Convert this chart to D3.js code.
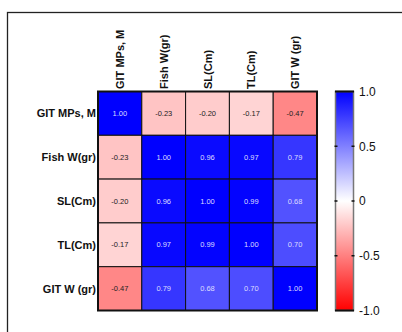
<!DOCTYPE html>
<html><head><meta charset="utf-8">
<script src="https://cdn.jsdelivr.net/npm/d3@7"></script>
<style>
html,body{margin:0;padding:0;background:#fff;}
svg{display:block;font-family:"Liberation Sans",Arial,sans-serif;}
</style></head>
<body>
<svg id="chart" width="402" height="332"></svg>
<script>
const categories = ["GIT MPs, M","Fish W(gr)","SL(Cm)","TL(Cm)","GIT W (gr)"];
const rowGIT   = [1.00,-0.23,-0.20,-0.17,-0.47];
const rowFish  = [-0.23,1.00,0.96,0.97,0.79];
const rowSL    = [-0.20,0.96,1.00,0.99,0.68];
const rowTL    = [-0.17,0.97,0.99,1.00,0.70];
const rowGITW  = [-0.47,0.79,0.68,0.70,1.00];
const matrix = [rowGIT,rowFish,rowSL,rowTL,rowGITW];
const colorTicks = [-1.0,-0.5,0,0.5,1.0];

const svg = d3.select("#chart");
// outer frame
svg.append("rect").attr("x",7.5).attr("y",12.5).attr("width",420).attr("height",340)
  .attr("fill","none").attr("stroke","#222").attr("stroke-width",1.3);

const x = d3.scaleBand().domain(categories).range([98,317]);
const y = d3.scaleBand().domain(categories).range([91.5,310.5]);
const color = d3.scaleLinear().domain([-1,0,1]).range(["#ff0000","#ffffff","#0000ff"]);

const cells = [];
matrix.forEach((row,i)=>row.forEach((v,j)=>cells.push({r:categories[i],c:categories[j],v})));

const g = svg.append("g");
g.selectAll("rect.cell").data(cells).join("rect").attr("class","cell")
  .attr("x",d=>x(d.c)).attr("y",d=>y(d.r))
  .attr("width",x.bandwidth()).attr("height",y.bandwidth())
  .attr("fill",d=>color(d.v)).attr("stroke","#111").attr("stroke-width",1);
g.selectAll("text.val").data(cells).join("text").attr("class","val")
  .attr("x",d=>x(d.c)+x.bandwidth()/2).attr("y",d=>y(d.r)+y.bandwidth()/2)
  .attr("text-anchor","middle").attr("dominant-baseline","central")
  .attr("font-size","7.5px")
  .attr("fill",d=>d.v>0.4?"#dcdcff":"#222")
  .text(d=>d.v.toFixed(2));
// heatmap outer border
g.append("rect").attr("x",98).attr("y",91.5).attr("width",219).attr("height",219)
  .attr("fill","none").attr("stroke","#111").attr("stroke-width",2);

// row labels
svg.selectAll("text.row").data(categories).join("text").attr("class","row")
  .attr("x",96).attr("y",d=>y(d)+y.bandwidth()/2)
  .attr("text-anchor","end").attr("dominant-baseline","central")
  .attr("font-size","11px").attr("font-weight","bold").attr("fill","#111")
  .text(d=>d);
// column labels
svg.selectAll("text.col").data(categories).join("text").attr("class","col")
  .attr("transform",d=>`translate(${x(d)+x.bandwidth()/2+4},89) rotate(-90)`)
  .attr("text-anchor","start")
  .attr("font-size","11px").attr("font-weight","bold").attr("fill","#111")
  .text(d=>d);

// color bar
const cb = d3.scaleLinear().domain([-1,1]).range([310.5,91.5]);
const defs = svg.append("defs");
const grad = defs.append("linearGradient").attr("id","cbg").attr("x1",0).attr("y1",1).attr("x2",0).attr("y2",0);
colorTicks.forEach(t=>grad.append("stop").attr("offset",(t+1)/2).attr("stop-color",color(t)));
svg.append("rect").attr("x",335.5).attr("y",cb(1)).attr("width",18).attr("height",cb(-1)-cb(1))
  .attr("fill","url(#cbg)").attr("stroke","#777").attr("stroke-width",1.5);
svg.append("line").attr("x1",335).attr("x2",354).attr("y1",cb(1)).attr("y2",cb(1)).attr("stroke","#111").attr("stroke-width",2);
svg.append("line").attr("x1",335).attr("x2",354).attr("y1",cb(-1)).attr("y2",cb(-1)).attr("stroke","#111").attr("stroke-width",2);
svg.selectAll("line.tl").data(colorTicks.slice(1,4)).join("line").attr("class","tl")
  .attr("x1",334.5).attr("x2",337.5).attr("y1",d=>cb(d)).attr("y2",d=>cb(d)).attr("stroke","#111").attr("stroke-width",1.5);
svg.selectAll("line.tr").data(colorTicks.slice(1,4)).join("line").attr("class","tr")
  .attr("x1",351.5).attr("x2",354.5).attr("y1",d=>cb(d)).attr("y2",d=>cb(d)).attr("stroke","#111").attr("stroke-width",1.5);
const axis = d3.axisRight(cb).tickValues(colorTicks).tickSize(0).tickPadding(0)
  .tickFormat(d=>d===0?"0":d.toFixed(1));
const ag = svg.append("g").attr("transform","translate(359,0)").call(axis);
ag.select(".domain").remove();
ag.selectAll("text").attr("font-size","12px").attr("fill","#111")
  .attr("font-family","'Liberation Sans',Arial,sans-serif");
</script>
</body></html>
